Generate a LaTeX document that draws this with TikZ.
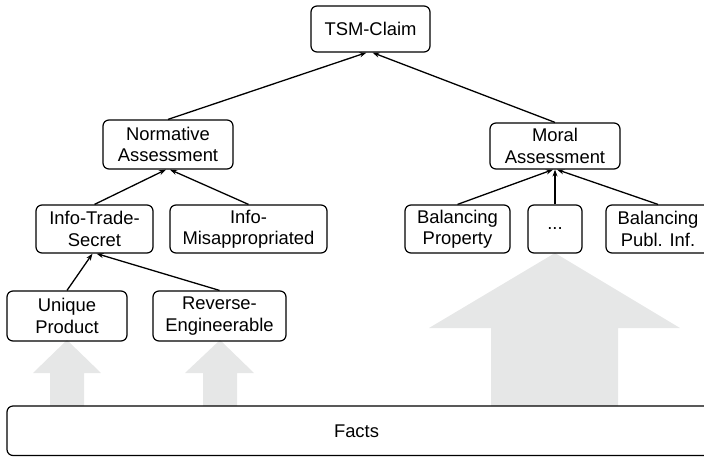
\documentclass[tikz,border=0pt]{standalone}
\usepackage{fontspec}
\setmainfont{Liberation Sans}
\usetikzlibrary{arrows.meta}
\definecolor{bigarrow}{HTML}{E6E7E7}
\tikzset{
  box/.style={draw, line width=1.2pt, rounded corners=6pt, align=center, inner sep=0pt,
    font=\fontsize{18.4}{21.5}\selectfont},
  link/.style={line width=1.3pt, -{Stealth[length=7pt,width=5pt]}},
  fatarrow/.style={fill=bigarrow, draw=none}
}
\begin{document}
\begin{tikzpicture}[x=1pt,y=-1pt]
\useasboundingbox (0,0) rectangle (704,456);
% gray arrows
\fill[fatarrow] (50,406) -- (50,373) -- (33,373) -- (67,340) -- (101,373) -- (84,373) -- (84,406) -- cycle;
\fill[fatarrow] (203,406) -- (203,373) -- (185,373) -- (220,340) -- (254,373) -- (237,373) -- (237,406) -- cycle;
\fill[fatarrow] (491,406) -- (491,328) -- (429,328) -- (555,253) -- (680,328) -- (618,328) -- (618,406) -- cycle;
% nodes
\node[box, minimum width=119pt, minimum height=46pt] (tsm) at (370.5,29) {TSM-Claim};
\node[box, minimum width=130pt, minimum height=49pt] (norm) at (168,144.5) {Normative\\Assessment};
\node[box, minimum width=130pt, minimum height=46pt] (moral) at (555,146) {Moral\\Assessment};
\node[box, minimum width=117pt, minimum height=48pt] (its) at (94.5,229) {Info-Trade-\\Secret};
\node[box, minimum width=157pt, minimum height=48pt] (imis) at (248.5,229) {Info-\\Misappropriated};
\node[box, minimum width=105pt, minimum height=48pt] (bprop) at (457.5,229) {Balancing\\Property};
\node[box, minimum width=54pt, minimum height=48pt] (dots) at (555,229) {...};
\node[box, minimum width=104pt, minimum height=48pt] (bpub) at (658,229) {Balancing\\Publ. Inf.};
\node[box, minimum width=120pt, minimum height=50pt] (uniq) at (67,316) {Unique\\Product};
\node[box, minimum width=133pt, minimum height=50pt] (rev) at (219.5,316) {Reverse-\\Engineerable};
\node[box, minimum width=704pt, minimum height=49.5pt, text depth=0pt] (facts) at (359,430.75) {\hspace*{-5pt}Facts};
% links
\draw[link] (norm.north) -- ([xshift=-4pt]tsm.south);
\draw[link] (moral.north) -- ([xshift=2pt]tsm.south);
\draw[link] (its.north) -- ([xshift=-2pt]norm.south);
\draw[link] (imis.north) -- ([xshift=2pt]norm.south);
\draw[link] (bprop.north) -- ([xshift=-2pt]moral.south);
\draw[link] (dots.north) -- (moral.south);
\draw[link] (bpub.north) -- ([xshift=2pt]moral.south);
\draw[link] (uniq.north) -- ([xshift=-2pt]its.south);
\draw[link] (rev.north) -- ([xshift=2pt]its.south);
\end{tikzpicture}
\end{document}
